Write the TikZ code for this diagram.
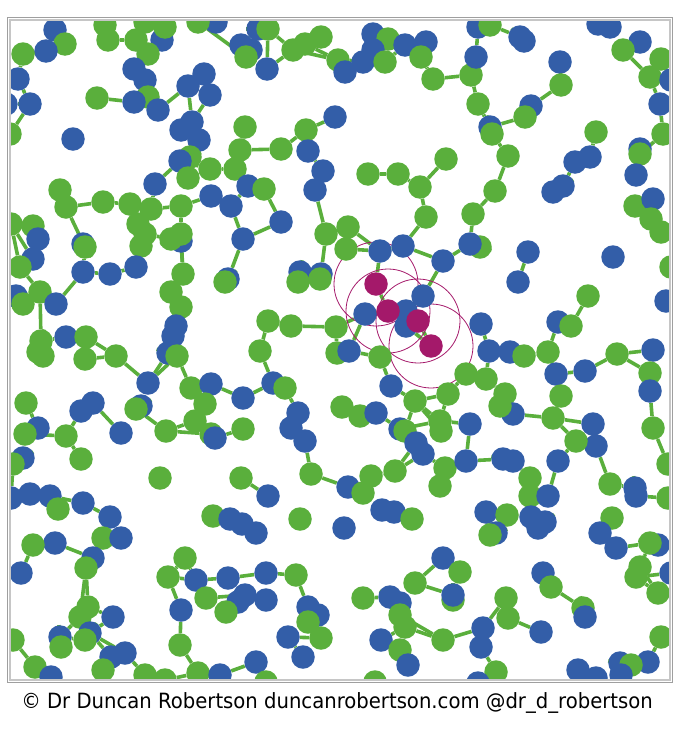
\documentclass[tikz,border=0pt]{standalone}
\usepackage{fontspec}
\usepackage{tikz}
\usetikzlibrary{backgrounds}
\newfontfamily\creditfont{DejaVu Sans}
\definecolor{pblue}{RGB}{51,94,168}
\definecolor{pgreen}{RGB}{90,175,60}
\definecolor{pmag}{RGB}{164,25,106}

\begin{document}
\begin{tikzpicture}[
      x=1pt, y=-1pt,
      ball/.style={circle, inner sep=0pt, minimum size=23.5pt},
      bond/.style={draw=pgreen, line width=3.6pt},
      ring/.style={draw=pmag, line width=0.8pt},
    ]
    \useasboundingbox (0,0) rectangle (689,731);

    % Particles (name/x/y/colour), clipped to the frame
    \begin{scope}
    \clip (11,21) rectangle (669,679);
    \foreach \nm/\x/\y/\col in {
      a1/55/30/pblue, a2/65/44/pgreen, a3/46/51/pblue, a4/23/54/pgreen, a5/18/79/pblue,
      a6/30/104/pblue, a7/10/134/pgreen, a8/6/104/pblue, a9/73/139/pblue, a10/97/98/pgreen,
      a11/105/25/pgreen, a12/108/40/pgreen, a13/136/40/pgreen, a14/162/40/pblue, a15/148/54/pgreen,
      a16/165/27/pgreen, a17/145/22/pgreen, a18/134/69/pblue, a19/145/80/pblue, a20/148/97/pgreen,
      a21/134/102/pblue, a22/158/110/pblue, a23/188/86/pblue, a24/204/74/pblue, a25/210/95/pblue,
      a26/192/122/pblue, a27/181/130/pblue, a28/199/140/pblue, a29/190/157/pgreen, a30/180/161/pblue,
      a31/210/169/pgreen, a32/235/169/pgreen, a33/240/150/pgreen, a34/245/127/pgreen, a35/281/149/pgreen,
      a36/306/130/pgreen, a37/308/151/pblue, a38/335/117/pblue, a39/323/171/pblue, a40/188/178/pgreen,
      a41/155/184/pblue, a42/60/190/pgreen, a43/248/186/pblue, a44/264/189/pgreen, a45/315/190/pblue,
      a46/216/22/pblue, a47/198/22/pgreen, a48/258/29/pblue, a49/268/29/pgreen, a51/251/50/pblue,
      a50/241/45/pblue, a52/246/57/pgreen, a53/267/69/pblue, a54/293/50/pgreen, a55/305/44/pgreen,
      a56/321/37/pgreen, a57/338/60/pgreen, a58/345/72/pblue,
      b3/363/62/pblue, b4/373/34/pblue, b5/388/39/pgreen, b6/373/50/pblue, b7/385/62/pgreen,
      b8/405/45/pblue, b9/426/42/pblue, b10/421/57/pgreen, b11/433/79/pgreen, b12/471/75/pgreen,
      b13/476/57/pblue, b14/478/27/pblue, b15/490/25/pgreen, b16/520/37/pblue, b17/524/41/pblue,
      b18/478/104/pgreen, b19/490/127/pblue, b20/492/134/pgreen, b21/508/156/pgreen, b22/560/62/pblue,
      b23/561/85/pgreen, b24/531/106/pblue, b25/525/117/pgreen, b26/446/159/pgreen, b27/398/174/pgreen,
      b28/368/174/pgreen, b29/420/187/pgreen, b30/495/191/pgreen, b31/596/132/pgreen, b32/590/157/pblue,
      b33/575/162/pblue, b34/553/192/pblue, b35/563/186/pblue, b36/598/24/pblue, b37/610/27/pblue,
      b38/640/42/pblue, b39/623/50/pgreen, b40/661/59/pgreen, b41/650/77/pgreen, b42/671/80/pblue,
      b43/660/104/pblue, b44/663/134/pgreen, b45/640/149/pblue, b46/640/154/pgreen, b47/636/175/pblue,
      c1/66/207/pgreen, c2/103/202/pgreen, c3/130/204/pgreen, c4/151/209/pgreen, c6/181/206/pgreen,
      c7/211/196/pblue, c8/231/206/pblue, c11/281/222/pblue, c12/243/239/pblue, c13/228/279/pblue,
      c14/225/282/pgreen, c15/326/234/pgreen, c17/300/272/pblue, c18/321/274/pblue, c19/298/282/pgreen,
      c20/320/279/pgreen, c25/181/241/pblue, c21/138/224/pgreen, c22/145/234/pgreen, c23/141/246/pgreen,
      c24/171/239/pgreen, c26/181/234/pgreen, c27/136/267/pblue, c28/110/274/pblue, c29/83/272/pblue,
      c31/83/244/pblue, c30/85/247/pgreen, c32/183/274/pgreen, c33/171/292/pgreen, c34/181/307/pgreen,
      c35/176/326/pblue, c36/173/336/pblue, c37/168/353/pblue, c38/177/356/pgreen, c39/11/224/pgreen,
      c40/33/226/pgreen, c41/38/239/pblue, c42/33/259/pblue, c43/20/267/pgreen, c44/40/292/pgreen,
      c45/56/304/pblue, c46/16/296/pblue, c47/23/304/pgreen, c48/41/341/pgreen, c49/66/337/pblue,
      c50/86/337/pgreen, c51/116/356/pgreen, c52/38/352/pgreen, c53/268/321/pgreen, c54/291/326/pgreen,
      c55/336/327/pgreen, c56/260/351/pgreen, c57/337/353/pgreen,
      d1/426/217/pgreen, d2/473/214/pgreen, d3/480/247/pgreen, d4/470/244/pblue, d5/443/261/pblue,
      d6/403/246/pblue, d7/380/251/pblue, d8/348/227/pgreen, d9/346/249/pgreen, d12/365/314/pblue,
      d13/423/296/pblue, d14/406/311/pblue, d15/406/326/pblue, d18/349/351/pblue, d19/380/357/pgreen,
      d20/481/324/pblue, d21/489/351/pblue, d22/510/352/pblue, d23/524/356/pgreen, d24/548/352/pgreen,
      d25/528/252/pblue, d26/518/282/pblue, d27/558/322/pblue, d28/571/326/pgreen, d29/588/296/pgreen,
      d30/613/257/pblue, d31/635/206/pgreen, d32/653/199/pblue, d33/651/219/pgreen, d34/661/232/pgreen,
      d35/666/301/pblue, d36/671/267/pgreen, d37/617/354/pgreen, d38/653/350/pblue,
      e1/43/356/pgreen, e2/85/359/pgreen, e6/148/383/pblue, e7/191/388/pgreen, e8/211/384/pblue,
      e9/243/398/pblue, e10/273/383/pblue, e11/285/388/pgreen, e15/342/407/pgreen, e16/298/413/pblue,
      e17/291/428/pblue, e18/305/441/pblue, e19/311/474/pgreen, e20/348/487/pblue, e21/26/403/pgreen,
      e22/81/411/pblue, e23/93/403/pblue, e24/141/406/pblue, e25/136/409/pgreen, e26/121/433/pblue,
      e27/166/431/pgreen, e28/195/421/pgreen, e29/205/404/pgreen, e30/211/434/pgreen, e31/215/438/pblue,
      e32/243/429/pgreen, e33/66/436/pgreen, e34/81/459/pgreen, e35/38/428/pblue, e36/25/434/pgreen,
      e37/23/458/pblue, e38/13/464/pgreen, e39/11/498/pblue, e40/30/494/pblue, e41/50/496/pblue,
      e42/58/509/pgreen, e43/83/503/pblue, e44/110/517/pblue, e45/160/478/pgreen, e46/241/478/pgreen,
      e47/268/496/pblue, e48/213/516/pgreen, e49/230/519/pblue, e50/242/524/pblue, e51/300/519/pgreen,
      f3/391/386/pblue, f4/415/401/pgreen, f5/448/394/pgreen, f6/466/374/pgreen, f7/486/379/pgreen,
      f12/556/374/pblue, f13/585/371/pblue, f16/650/373/pgreen, f17/650/391/pblue, f18/505/394/pgreen,
      f20/513/414/pblue, f19/500/406/pgreen, f21/561/396/pgreen, f23/593/424/pblue, f24/596/446/pblue,
      f22/553/418/pgreen, f25/576/441/pgreen, f26/653/428/pgreen, f27/668/464/pgreen, f29/360/416/pgreen,
      f30/376/413/pblue, f31/400/429/pblue, f32/405/431/pgreen, f33/440/421/pgreen, f34/441/431/pgreen,
      f35/470/424/pblue, f36/416/443/pblue, f37/423/454/pblue, f38/445/468/pgreen, f39/440/486/pgreen,
      f40/466/461/pblue, f41/503/459/pblue, f42/513/461/pblue, f43/530/478/pgreen, f44/530/496/pgreen,
      f45/548/496/pblue, f46/558/461/pblue, f47/610/484/pgreen, f48/635/488/pblue, f49/636/496/pblue,
      f50/668/498/pgreen, f51/395/471/pgreen, f52/371/476/pgreen, f53/363/493/pgreen, f55/382/510/pblue,
      f56/394/512/pblue, f57/412/519/pgreen, f58/486/512/pblue, f59/507/515/pgreen, f60/531/517/pblue,
      f61/612/518/pgreen,
      g2/103/538/pgreen, g3/121/538/pblue, g4/93/558/pblue, g5/86/568/pgreen, g6/55/543/pblue,
      g7/33/545/pgreen, g8/21/573/pblue, g12/256/533/pblue, g14/344/528/pblue, g15/185/558/pgreen,
      g16/168/577/pgreen, g17/196/580/pblue, g18/228/578/pblue, g19/266/573/pblue, g20/296/575/pgreen,
      g22/206/598/pgreen, g23/245/595/pblue, g24/266/600/pblue, g26/238/602/pblue, g25/226/612/pgreen,
      g27/181/610/pblue, g28/308/607/pblue, g29/318/615/pblue, g30/308/622/pgreen, g31/321/638/pgreen,
      g32/288/637/pblue, g33/303/657/pblue, g34/180/645/pgreen, g35/88/607/pgreen, g36/80/617/pgreen,
      g37/113/617/pblue, g38/90/633/pblue, g39/85/640/pgreen, g40/60/637/pblue, g41/61/647/pgreen,
      g42/13/640/pgreen, g43/35/667/pgreen, g44/51/677/pblue, g45/111/657/pblue, g46/125/653/pblue,
      g47/103/670/pgreen, g48/145/675/pgreen, g49/165/680/pgreen, g50/198/673/pgreen, g51/220/675/pblue,
      g52/256/662/pblue, g53/266/682/pgreen,
      h7/496/533/pblue, h8/490/535/pgreen, h10/545/522/pblue, h11/538/528/pblue, h13/600/533/pblue,
      h14/616/548/pblue, h16/658/545/pblue, h15/650/543/pgreen, h17/640/567/pgreen, h18/636/577/pgreen,
      h19/658/593/pgreen, h20/671/573/pblue, h21/661/637/pgreen, h22/648/662/pblue, h23/578/670/pblue,
      h24/596/678/pblue, h25/620/663/pblue, h26/631/665/pgreen, h27/621/675/pblue, h28/543/573/pblue,
      h29/551/587/pgreen, h30/583/608/pgreen, h31/585/617/pblue, h32/443/558/pblue, h33/460/572/pgreen,
      h34/415/583/pgreen, h36/453/600/pgreen, h35/453/595/pblue, h37/363/598/pgreen, h38/390/597/pblue,
      h39/400/603/pblue, h40/400/615/pgreen, h41/405/627/pgreen, h42/381/640/pblue, h43/400/650/pgreen,
      h44/408/665/pblue, h45/443/640/pgreen, h46/483/628/pblue, h47/481/647/pblue, h48/506/598/pgreen,
      h49/508/618/pgreen, h50/541/632/pblue, h51/496/672/pgreen, h52/478/683/pblue, h53/375/682/pgreen}
      \node[ball, fill=\col] (\nm) at (\x,\y) {};

    % Infected particles
    \foreach \nm/\x/\y in {m1/376/284, m2/388/311, m3/418/321, m4/431/346}
      \node[ball, fill=pmag] (\nm) at (\x,\y) {};
    \end{scope}

    % Bonds and infection radii behind the particles
    \begin{pgfonlayer}{background}
    \clip (11,21) rectangle (669,679);
    \foreach \p/\q in {
      a1/a3, a1/a2, a3/a4, a4/a5, a5/a6, a6/a7, a6/a8,
      a11/a12, a12/a13, a13/a15, a15/a14, a14/a16, a17/a13, a15/a18, a18/a19, a19/a21, a21/a10,
      a21/a22, a22/a23, a23/a24, a24/a25, a23/a26, a25/a26, a26/a27, a27/a28, a28/a29, a29/a30,
      a30/a31, a31/a32, a32/a33, a33/a34, a33/a35, a35/a36, a36/a38, a36/a37, a37/a39, a30/a41,
      a40/a30, a47/a52, a46/a47, a50/a48, a48/a49, a49/a53, a49/a54, a54/a56, a55/a57, a54/a57,
      a53/a54, a43/a44,
      b3/b6, b6/b5, b5/b4, b7/b8, b8/b9, b9/b10, b10/b11, b11/b12, b12/b13, b13/b14, b14/b15,
      b15/b16, b16/b17, b12/b18, b18/b19, b19/b20, b20/b21, b21/b30, b19/b25, b25/b24, b24/b23,
      b23/b22, b26/b29, b29/b27, b27/b28, b31/b32, b32/b33, b33/b35, b35/b34, b36/b37, b39/b38,
      b39/b41, b41/b40, b41/b43, b43/b44, b44/b46, b46/b47, b40/b42, a58/b3, a57/b7, b7/b6,
      a42/c1, c1/c2, c2/c3, c3/c4, c4/c6, a41/c4, c6/c7, c7/c8, c8/a43, c8/c12, c12/c11, c11/a44,
      c12/c13, c13/c14, a45/c15, c15/d8, c15/c18, c17/c18, c19/c20, c17/c19, c21/c22, c22/c23,
      c22/c24, c24/c26, c26/c6, c24/c25, c25/c32, c26/c32, c32/c33, c33/c34, c34/c35, c35/c36,
      c36/c37, c37/c38, c23/c27, c27/c28, c28/c29, c29/c30, c30/c31, c30/c1, c39/c40, c40/c41,
      c40/c42, c39/c42, c41/c42, c42/c43, c43/c44, c44/c46, c46/c47, c44/c45, c45/c29, c44/c48,
      c48/c49, c49/c50, c50/c51, c48/c52, c53/c54, c54/c55, c53/c56, c55/c57, c39/c43,
      b29/d1, d1/d6, d6/d7, d6/d5, d5/d4, d4/d2, d2/b30, d3/d4, d5/d13, d7/m1, d8/d7, d9/d7,
      m1/m2, m2/d12, m2/d14, d14/m3, m3/m4, d15/m4, d12/d18, m2/m3, d13/d14, d12/c55, d18/d19,
      d20/d21, d21/d22, d22/d23, d23/d24, d24/d27, d27/d28, d28/d29, d25/d26, d32/d33, d31/d33,
      d33/d34, d37/d38,
      e2/c51, c51/e6, e6/c38, e6/c37, c38/e7, e7/e8, e8/e9, e9/e10, e10/e11, c56/e10, e11/e16,
      e16/e17, e17/e18, e18/e19, e19/e20, e21/e35, e22/e33, e22/e23, e23/e26, e24/e25, e25/e27,
      e27/e28, e28/e29, e28/e30, e30/e31, e31/e32, e27/e30, e29/e7, e33/e34, e33/e36, e35/e36,
      e36/e37, e37/e38, e38/e39, e39/e40, e40/e41, e41/e42, e41/e43, e43/e44, e47/e46, e48/e49,
      e49/e50, e15/f29,
      d19/f3, f3/f4, f4/f5, f5/f6, f6/f7, f7/d21, f4/f32, f4/f34, f4/f33, f5/f33, f7/f18,
      f18/f19, f19/f20, f20/f22, f21/f12, f21/f22, f22/f23, f22/f25, f25/f24, f24/f23, f12/f13,
      f13/d37, d37/f16, f16/f17, f17/f26, f26/f27, d24/f12, f29/f30, f30/f31, f31/f33, f33/f35,
      f31/f36, f36/f37, f37/f38, f38/f39, f38/f40, f40/f35, f40/f41, f41/f42, f42/f43, f43/f44,
      f44/f45, f45/f46, f46/f25, f47/f48, f48/f49, f49/f50, f24/f47, f51/f52, f52/f53, f53/e20,
      f51/f36, f51/f37, f55/f56, f56/f57, f58/f59, f59/f60, f60/h10, f61/h13,
      e44/g2, g2/g3, g2/g4, g4/g5, g6/g4, g6/g7, g7/g8, g5/g35, g35/g36, g35/g37, g36/g38,
      g37/g38, g38/g39, g39/g40, g40/g41, g36/g40, g38/g45, g38/g46, g45/g47, g46/g48, g48/g49,
      g49/g50, g50/g51, g51/g52, g15/g16, g16/g17, g15/g17, g17/g18, g18/g19, g19/g20, g17/g22,
      g22/g23, g23/g24, g25/g26, g26/g23, g27/g34, g16/g27, g34/g50, g28/g29, g29/g30, g30/g31,
      g31/g32, g32/g33, g20/g28, g42/g43, g43/g44, g45/g46, g5/g36, g12/e50,
      h7/h8, h8/f58, h10/h11, h13/h14, h14/h15, h15/h16, h15/h17, h17/h18, h18/h19, h17/h19,
      h18/h20, h19/h20, h21/h22, h22/h25, h23/h24, h25/h26, h26/h27, h28/h29, h29/h30, h30/h31,
      h32/h34, h34/h35, h33/h35, h32/h33, h37/h38, h38/h39, h39/h40, h40/h41, h41/h45, h40/h45,
      h41/h42, h42/h43, h43/h44, h45/h46, h46/h48, h48/h49, h49/h50, h46/h47, h47/h51, h51/h52,
      h35/h36}
      \draw[bond] (\p) -- (\q);
    \foreach \m in {m1, m2, m3, m4}
      \draw[ring] (\m) circle[radius=42];
    \end{pgfonlayer}

    % Frame
    \draw[gray!75, line width=1.2pt] (7.8,17.8) rectangle (672.6,682.6);
    \draw[gray!45, line width=2pt] (10.2,20.3) rectangle (669.8,680.2);

    % Credit line
    \node[anchor=base, inner sep=0pt, font=\creditfont\fontsize{21}{24}\selectfont] (credit)
      at (337,708) {\scalebox{0.935}[1]{© Dr Duncan Robertson duncanrobertson.com @dr\_d\_robertson}};
  \end{tikzpicture}
\end{document}
